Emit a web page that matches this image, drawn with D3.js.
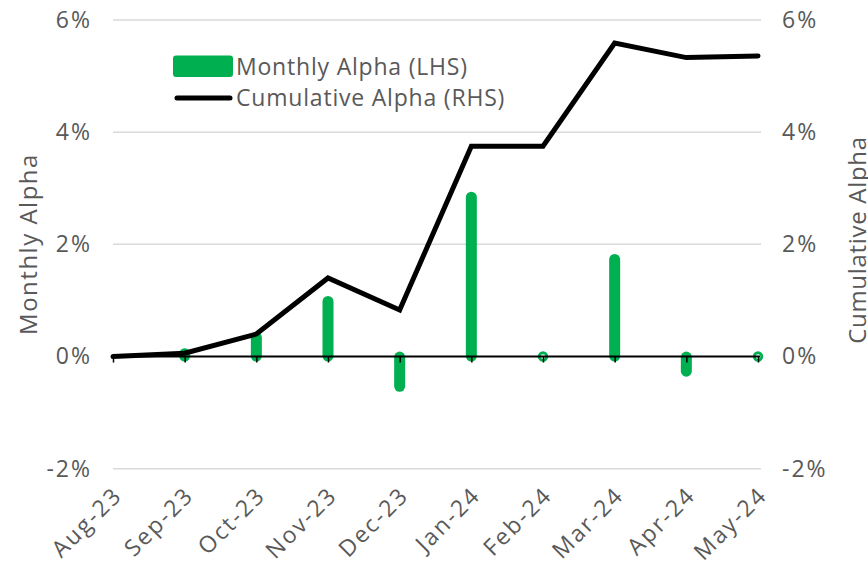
<!DOCTYPE html>
<html><head><meta charset="utf-8">
<script src="https://cdn.jsdelivr.net/npm/d3@7"></script>
<style>
body{margin:0;background:#fff;}
svg{display:block;}
svg text{font-family:"Open Sans",sans-serif;}
</style></head><body>
<svg id="c" width="868" height="564"></svg>
<script>
const months = ["Aug-23","Sep-23","Oct-23","Nov-23","Dec-23","Jan-24","Feb-24","Mar-24","Apr-24","May-24"];
const monthlyAlpha = [null, 0.06, 0.35, 0.99, -0.54, 2.85, 0, 1.74, -0.27, 0];
const cumulativeAlpha = [0, 0.06, 0.40, 1.40, 0.83, 3.75, 3.75, 5.59, 5.33, 5.36];
const yTicks = [-2, 0, 2, 4, 6];
const leftTitle = "Monthly Alpha";
const rightTitle = "Cumulative Alpha";
const legendLabels = ["Monthly Alpha (LHS)", "Cumulative Alpha (RHS)"];

const svg = d3.select("#c");
const x = d3.scalePoint().domain(months).range([113, 758]);
const yL = d3.scaleLinear().domain([-2, 6]).range([468.7, 20]);
const yR = d3.scaleLinear().domain([-2, 6]).range([468.7, 20]);
const green = "#00b050", textCol = "#595959";

// gridlines
svg.append("g").selectAll("line").data(yTicks.filter(d => d !== 0)).join("line")
  .attr("x1", 113).attr("x2", 761)
  .attr("y1", d => yL(d)).attr("y2", d => yL(d))
  .attr("stroke", "#d9d9d9").attr("stroke-width", 1.5);

// axis labels
const leftAxis = d3.axisLeft(yL).tickValues(yTicks).tickFormat(d => d + "%").tickSize(0).tickPadding(0);
const gl = svg.append("g").attr("transform", "translate(92,0)").call(leftAxis);
gl.select(".domain").remove();
gl.selectAll("text").attr("font-size", 23).attr("letter-spacing", 2).attr("fill", textCol).attr("font-family", null);

const rightAxis = d3.axisRight(yR).tickValues(yTicks).tickFormat(d => d + "%").tickSize(0).tickPadding(0);
const gr = svg.append("g").attr("transform", "translate(782,0)").call(rightAxis);
gr.select(".domain").remove();
gr.selectAll("text").attr("font-size", 23).attr("letter-spacing", 2).attr("fill", textCol).attr("font-family", null);

// bars
const barData = months.map((m, i) => ({m, v: monthlyAlpha[i]})).filter(d => d.v !== null);
svg.append("g").selectAll("rect").data(barData.filter(d => d.v !== 0)).join("rect")
  .attr("x", d => x(d.m) - 5.5).attr("width", 11)
  .attr("y", d => Math.min(yL(d.v), yL(0)) - 5)
  .attr("height", d => Math.abs(yL(d.v) - yL(0)) + 10)
  .attr("rx", 5.5).attr("fill", green);
svg.append("g").selectAll("circle").data(barData.filter(d => d.v === 0)).join("circle")
  .attr("cx", d => x(d.m)).attr("cy", yL(0)).attr("r", 3.8)
  .attr("fill", "none").attr("stroke", green).attr("stroke-width", 2.8);

// zero axis + ticks
svg.append("line").attr("x1", 113).attr("x2", 760).attr("y1", yL(0)).attr("y2", yL(0))
  .attr("stroke", "#000").attr("stroke-width", 2);
const xAxis = d3.axisBottom(x).tickSize(6).tickFormat("");
const gx = svg.append("g").attr("transform", `translate(0,${yL(0)})`).call(xAxis);
gx.select(".domain").remove();
gx.selectAll("line").attr("stroke", "#000").attr("stroke-width", 1.5);

// x labels
svg.append("g").selectAll("text").data(months).join("text")
  .attr("transform", d => `translate(${x(d) - 1},485) rotate(-45)`)
  .attr("text-anchor", "end").attr("dy", "0.71em").attr("letter-spacing", 2.2)
  .attr("font-size", 23).attr("fill", textCol).text(d => d);

// line
const line = d3.line().x((d, i) => x(months[i])).y(d => yR(d));
svg.append("path").datum(cumulativeAlpha).attr("d", line)
  .attr("fill", "none").attr("stroke", "#000").attr("stroke-width", 5)
  .attr("stroke-linejoin", "miter").attr("stroke-linecap", "round");

// titles
svg.append("text").attr("transform", "translate(37,244) rotate(-90)")
  .attr("text-anchor", "middle").attr("font-size", 24).attr("letter-spacing", 1.5)
  .attr("fill", textCol).text(leftTitle);
svg.append("text").attr("transform", "translate(866,240) rotate(-90)")
  .attr("text-anchor", "middle").attr("font-size", 24).attr("letter-spacing", 0.7)
  .attr("fill", textCol).text(rightTitle);

// legend
const lg = svg.append("g");
lg.append("rect").attr("x", 173).attr("y", 55.5).attr("width", 60).attr("height", 21.5).attr("rx", 3).attr("fill", green);
lg.append("line").attr("x1", 177).attr("x2", 230).attr("y1", 98).attr("y2", 98)
  .attr("stroke", "#000").attr("stroke-width", 5).attr("stroke-linecap", "round");
lg.selectAll("text").data(legendLabels).join("text")
  .attr("x", 236).attr("y", (d, i) => 75 + i * 30.5)
  .attr("font-size", 23).attr("letter-spacing", 0.8).attr("fill", textCol).text(d => d);
</script>
</body></html>
